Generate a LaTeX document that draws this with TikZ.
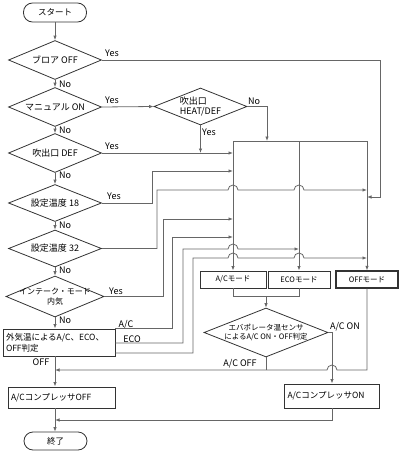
\documentclass[tikz,border=0pt]{standalone}
\usepackage{fontspec}
\setmainfont{Noto Sans CJK JP}
\usetikzlibrary{shapes.geometric,arrows.meta}

\tikzset{
	flow/.style={draw=black!60, line width=0.8pt},
	arr/.style={flow, -{Latex[length=4.5pt,width=3.5pt]}},
	decide/.style={diamond, draw=black!80, line width=0.8pt, inner sep=0pt, minimum width=93pt, minimum height=39pt},
	dtext/.style={inner sep=0pt, align=center, font=\fontsize{9}{10.5}\selectfont},
	procbox/.style={rectangle, draw=black!80, line width=0.9pt, inner sep=3pt, font=\fontsize{8.5}{11}\selectfont},
	modebox/.style={procbox, minimum height=17pt, font=\fontsize{7.5}{9}\selectfont},
	term/.style={rectangle, rounded corners=9pt, draw=black!80, line width=0.8pt, minimum width=63pt, minimum height=19pt, font=\fontsize{8.5}{10}\selectfont},
	lbl/.style={inner sep=0pt, font=\fontsize{9}{10}\selectfont}
}

\begin{document}
\begin{tikzpicture}[x=1pt,y=-1pt]
		%%%%% START %%%%%
		\useasboundingbox (0,0) rectangle (403,458);
		
		% left column
		\node[term] (start) at (55,12.5) {スタート};
		\node[decide, label={[dtext]center:ブロア OFF}] (blower) at (55,60) {};
		\node[decide, label={[dtext]center:マニュアル ON}] (manual) at (55,107) {};
		\node[decide, label={[dtext]center:吹出口 DEF}] (outlet) at (55,153) {};
		\node[decide, minimum height=37pt, label={[dtext]center:設定温度 18}] (set18) at (55,203) {};
		\node[decide, minimum height=37pt, label={[dtext]center:設定温度 32}] (set32) at (55,248.5) {};
		\node[decide, minimum width=98pt, minimum height=41pt, label={[dtext, font=\fontsize{8}{10.5}\selectfont]center:{インテーク・モード\\内気}}] (intake) at (55,296.5) {};
		\node[procbox, text width=106pt, minimum height=27pt, align=left] (ambient) at (59,342.5) {外気温によるA/C、ECO、\\OFF判定};
		\node[procbox, text width=101pt, minimum height=21pt, align=left] (compoff) at (61.5,397.5) {A/CコンプレッサOFF};
		\node[term, minimum height=18pt] (stop) at (55.5,441) {終了};
		
		\node[decide, minimum height=37pt, label={[dtext, align=left]center:{吹出口\\HEAT/DEF}}] (heatdef) at (200.5,106.5) {};
		
		% mode boxes
		\node[modebox, minimum width=66pt] (acmode) at (233,279.5) {A/Cモード};
		\node[modebox, minimum width=62pt] (ecomode) at (299,279.5) {ECOモード};
		\node[modebox, minimum width=62pt, line width=1.3pt] (offmode) at (367,279.5) {OFFモード};
		\node[decide, minimum width=124pt, minimum height=49pt, label={[dtext, font=\fontsize{7.5}{9}\selectfont]center:{エバポレータ温センサ\\によるA/C ON・OFF判定}}] (evap) at (266,332.5) {};
		\node[procbox, text width=89pt, minimum height=24pt, align=left] (compon) at (332,396) {A/CコンプレッサON};
		
		% labels
		\node[lbl] (yes1) at (112,53) {Yes};
		\node[lbl] (yes2) at (112,100.5) {Yes};
		\node[lbl] (yes3) at (112,146.5) {Yes};
		\node[lbl] (yes4) at (114,196.5) {Yes};
		\node[lbl] (yes5) at (116,291.5) {Yes};
		\node[lbl] (yes6) at (209,132) {Yes};
		\node[lbl] (no0) at (254,101) {No};
		\node[lbl, anchor=west] (no1) at (59,84) {No};
		\node[lbl, anchor=west] (no2) at (59,130) {No};
		\node[lbl, anchor=west] (no3) at (59,175.5) {No};
		\node[lbl, anchor=west] (no4) at (59,225) {No};
		\node[lbl, anchor=west] (no5) at (59,270.5) {No};
		\node[lbl, anchor=west] (no6) at (59,320.5) {No};
		\node[lbl] (acl) at (126,325) {A/C};
		\node[lbl] (ecol) at (132,339) {ECO};
		\node[lbl] (offl) at (41,362) {OFF};
		\node[lbl] (aconl) at (345,327) {A/C ON};
		\node[lbl] (acoffl) at (240,364) {A/C OFF};
		
		% main column
		\draw[arr] (start) -- (blower);
		\draw[arr] (blower) -- (manual);
		\draw[arr] (manual) -- (outlet);
		\draw[arr] (outlet) -- (set18);
		\draw[arr] (set18) -- (set32);
		\draw[arr] (set32) -- (intake);
		\draw[arr] (intake.south) -- (intake.south |- ambient.north);
		\draw[arr] (ambient.south -| start) -- (compoff.north -| start);
		\draw[arr] (compoff.south -| start) -- (stop.north -| start);
		
		% distribution grid
		\coordinate (topA) at (233,141);
		\coordinate (topE) at (299,141);
		\coordinate (topO) at (367,141);
		\draw[flow] (topA) -- (topO);
		\draw[arr] (topA) -- (acmode);
		\draw[arr] (topE) -- (ecomode);
		\draw[arr] (topO) -- (offmode);
		
		% yes branches
		\draw[arr] (blower.east) -| (380,197) -- (367,197);
		\draw[arr] (manual.east) -- (heatdef.west);
		\draw[arr] (heatdef.east) -| (267,141);
		\draw[arr] (heatdef.south) -- (heatdef.south |- outlet.east);
		\draw[arr] (outlet.east) -- (outlet.east -| topA);
		\draw[arr] (set18.east) -| (152,171) -- (233,171);
		\draw[arr] (set32.east) -| (157,190) -- (228,190) arc[start angle=180,end angle=360,radius=5] -- (294,190) arc[start angle=180,end angle=360,radius=5] -- (367,190);
		\draw[arr] (intake.east) -| (163,219) -- (233,219);
		\draw[arr] (ambient.north east) -| (172,237) -- (233,237);
		\draw[arr] (ambient.east |- 0,343) -| (183,249) -- (228,249) arc[start angle=180,end angle=360,radius=5] -- (299,249);
		\draw[arr] (ambient.east |- 0,353) -| (193,258) -- (228,258) arc[start angle=180,end angle=360,radius=5] -- (294,258) arc[start angle=180,end angle=360,radius=5] -- (367,258);
		
		% compressor decision
		\draw[flow] (acmode.south) -- ++(0,8) -| (ecomode.south);
		\draw[arr] (266,296) -- (evap.north);
		\draw[arr] (evap.east) -| (compon.north);
		\draw[flow] (evap.south) -- (evap.south |- 0,370);
		\draw[arr] (offmode.south) -- (367,370) -- (337,370) arc[start angle=0,end angle=-180,radius=5] -- (55,370);
		\draw[arr] (compon.south) |- (55,420);
		
		%%%%% END %%%%%
\end{tikzpicture}
\end{document}
